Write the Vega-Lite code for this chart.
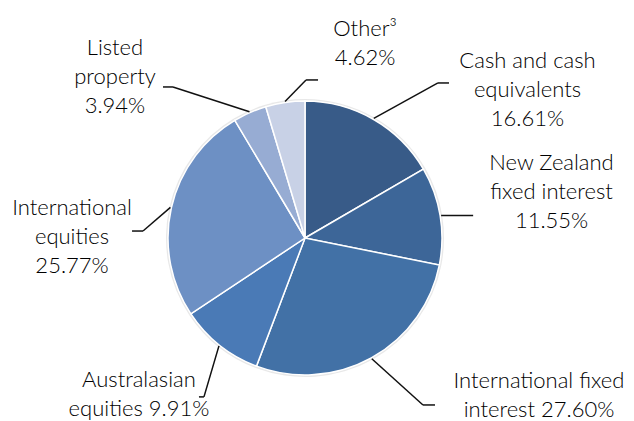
{
  "$schema": "https://vega.github.io/schema/vega-lite/v6.json",
  "width": 634,
  "height": 421,
  "autosize": {"type": "none"},
  "padding": 0,
  "background": "white",
  "config": {
    "view": {"stroke": null},
    "text": {"font": "Lato", "fontSize": 22, "fontWeight": 300, "lineHeight": 29, "fill": "#000000"},
    "rule": {"stroke": "#111111", "strokeWidth": 1.5}
  },
  "data": {
    "values": [
      {"category": "Cash and cash equivalents", "value": 16.61, "label": ["Cash and cash", "equivalents", "16.61%"]},
      {"category": "New Zealand fixed interest", "value": 11.55, "label": ["New Zealand", "fixed interest", "11.55%"]},
      {"category": "International fixed interest", "value": 27.60, "label": ["International fixed", "interest 27.60%"]},
      {"category": "Australasian equities", "value": 9.91, "label": ["Australasian", "equities 9.91%"]},
      {"category": "International equities", "value": 25.77, "label": ["International", "equities", "25.77%"]},
      {"category": "Listed property", "value": 3.94, "label": ["Listed", "property", "3.94%"]},
      {"category": "Other", "value": 4.62, "label": ["Other³", "4.62%"]}
    ]
  },
  "transform": [
    {"window": [{"op": "sum", "field": "value", "as": "v1"}], "frame": [null, 0]},
    {"calculate": "datum.v1 - datum.value", "as": "v0"},
    {"calculate": "PI * (datum.v0 + datum.v1) / 100", "as": "a"},
    {"calculate": "138 * sin(datum.a)", "as": "sx"},
    {"calculate": "138 * cos(datum.a)", "as": "sy"}
  ],
  "layer": [
    {
      "mark": {"type": "arc", "outerRadius": 139, "fill": "#d9d9d9", "opacity": 0.6},
      "encoding": {
        "x": {"datum": 0, "type": "quantitative", "scale": {"domain": [-305, 329], "nice": false, "zero": false}, "axis": null},
        "y": {"datum": 0, "type": "quantitative", "scale": {"domain": [-183, 238], "nice": false, "zero": false}, "axis": null},
        "theta": {"field": "v0", "type": "quantitative", "scale": {"domain": [0, 100]}},
        "theta2": {"field": "v1"}
      }
    },
    {
      "mark": {"type": "arc", "outerRadius": 137, "stroke": "white", "strokeWidth": 1.5},
      "encoding": {
        "x": {"datum": 0, "type": "quantitative", "scale": {"domain": [-305, 329], "nice": false, "zero": false}, "axis": null},
        "y": {"datum": 0, "type": "quantitative", "scale": {"domain": [-183, 238], "nice": false, "zero": false}, "axis": null},
        "theta": {"field": "v0", "type": "quantitative", "scale": {"domain": [0, 100]}},
        "theta2": {"field": "v1"},
        "color": {
          "field": "category",
          "type": "nominal",
          "legend": null,
          "scale": {
            "domain": ["Cash and cash equivalents", "New Zealand fixed interest", "International fixed interest", "Australasian equities", "International equities", "Listed property", "Other"],
            "range": ["#385b88", "#3d6698", "#4271a6", "#4a7ab6", "#6d90c4", "#97acd3", "#c8d1e6"]
          }
        }
      }
    },
    {
      "transform": [
        {"filter": "datum.category === 'Cash and cash equivalents'"},
        {"calculate": "datum.sx + 64.2", "as": "ex"},
        {"calculate": "datum.sy + 35.4", "as": "ey"},
        {"calculate": "datum.ex + 11", "as": "fx"},
        {"calculate": "datum.sx + 153.7", "as": "tx"},
        {"calculate": "datum.sy + 50.4", "as": "ty"}
      ],
      "layer": [
        {"mark": "rule", "encoding": {"x": {"field": "sx", "type": "quantitative", "scale": {"domain": [-305, 329], "nice": false, "zero": false}, "axis": null}, "y": {"field": "sy", "type": "quantitative", "scale": {"domain": [-183, 238], "nice": false, "zero": false}, "axis": null}, "x2": {"field": "ex"}, "y2": {"field": "ey"}}},
        {"mark": "rule", "encoding": {"x": {"field": "ex", "type": "quantitative", "scale": {"domain": [-305, 329], "nice": false, "zero": false}, "axis": null}, "y": {"field": "ey", "type": "quantitative", "scale": {"domain": [-183, 238], "nice": false, "zero": false}, "axis": null}, "x2": {"field": "fx"}, "y2": {"field": "ey"}}},
        {"mark": {"type": "text", "align": "center", "baseline": "alphabetic"}, "encoding": {"x": {"field": "tx", "type": "quantitative", "scale": {"domain": [-305, 329], "nice": false, "zero": false}, "axis": null}, "y": {"field": "ty", "type": "quantitative", "scale": {"domain": [-183, 238], "nice": false, "zero": false}, "axis": null}, "text": {"field": "label", "type": "nominal"}}}
      ]
    },
    {
      "transform": [
        {"filter": "datum.category === 'New Zealand fixed interest'"},
        {"calculate": "datum.sx", "as": "ex"},
        {"calculate": "datum.sy", "as": "ey"},
        {"calculate": "datum.ex + 32", "as": "fx"},
        {"calculate": "datum.sx + 110.4", "as": "tx"},
        {"calculate": "datum.sy + 45.4", "as": "ty"}
      ],
      "layer": [
        {"mark": "rule", "encoding": {"x": {"field": "ex", "type": "quantitative", "scale": {"domain": [-305, 329], "nice": false, "zero": false}, "axis": null}, "y": {"field": "ey", "type": "quantitative", "scale": {"domain": [-183, 238], "nice": false, "zero": false}, "axis": null}, "x2": {"field": "fx"}, "y2": {"field": "ey"}}},
        {"mark": {"type": "text", "align": "center", "baseline": "alphabetic"}, "encoding": {"x": {"field": "tx", "type": "quantitative", "scale": {"domain": [-305, 329], "nice": false, "zero": false}, "axis": null}, "y": {"field": "ty", "type": "quantitative", "scale": {"domain": [-183, 238], "nice": false, "zero": false}, "axis": null}, "text": {"field": "label", "type": "nominal"}}}
      ]
    },
    {
      "transform": [
        {"filter": "datum.category === 'International fixed interest'"},
        {"calculate": "datum.sx + 51.2", "as": "ex"},
        {"calculate": "datum.sy - 46.2", "as": "ey"},
        {"calculate": "datum.ex + 12", "as": "fx"},
        {"calculate": "datum.sx + 167.2", "as": "tx"},
        {"calculate": "datum.sy - 29.2", "as": "ty"}
      ],
      "layer": [
        {"mark": "rule", "encoding": {"x": {"field": "sx", "type": "quantitative", "scale": {"domain": [-305, 329], "nice": false, "zero": false}, "axis": null}, "y": {"field": "sy", "type": "quantitative", "scale": {"domain": [-183, 238], "nice": false, "zero": false}, "axis": null}, "x2": {"field": "ex"}, "y2": {"field": "ey"}}},
        {"mark": "rule", "encoding": {"x": {"field": "ex", "type": "quantitative", "scale": {"domain": [-305, 329], "nice": false, "zero": false}, "axis": null}, "y": {"field": "ey", "type": "quantitative", "scale": {"domain": [-183, 238], "nice": false, "zero": false}, "axis": null}, "x2": {"field": "fx"}, "y2": {"field": "ey"}}},
        {"mark": {"type": "text", "align": "center", "baseline": "alphabetic"}, "encoding": {"x": {"field": "tx", "type": "quantitative", "scale": {"domain": [-305, 329], "nice": false, "zero": false}, "axis": null}, "y": {"field": "ty", "type": "quantitative", "scale": {"domain": [-183, 238], "nice": false, "zero": false}, "axis": null}, "text": {"field": "label", "type": "nominal"}}}
      ]
    },
    {
      "transform": [
        {"filter": "datum.category === 'Australasian equities'"},
        {"calculate": "datum.sx - 15", "as": "ex"},
        {"calculate": "datum.sy - 51", "as": "ey"},
        {"calculate": "datum.ex - 5", "as": "fx"},
        {"calculate": "datum.sx - 80", "as": "tx"},
        {"calculate": "datum.sy - 41.1", "as": "ty"}
      ],
      "layer": [
        {"mark": "rule", "encoding": {"x": {"field": "sx", "type": "quantitative", "scale": {"domain": [-305, 329], "nice": false, "zero": false}, "axis": null}, "y": {"field": "sy", "type": "quantitative", "scale": {"domain": [-183, 238], "nice": false, "zero": false}, "axis": null}, "x2": {"field": "ex"}, "y2": {"field": "ey"}}},
        {"mark": "rule", "encoding": {"x": {"field": "ex", "type": "quantitative", "scale": {"domain": [-305, 329], "nice": false, "zero": false}, "axis": null}, "y": {"field": "ey", "type": "quantitative", "scale": {"domain": [-183, 238], "nice": false, "zero": false}, "axis": null}, "x2": {"field": "fx"}, "y2": {"field": "ey"}}},
        {"mark": {"type": "text", "align": "center", "baseline": "alphabetic"}, "encoding": {"x": {"field": "tx", "type": "quantitative", "scale": {"domain": [-305, 329], "nice": false, "zero": false}, "axis": null}, "y": {"field": "ty", "type": "quantitative", "scale": {"domain": [-183, 238], "nice": false, "zero": false}, "axis": null}, "text": {"field": "label", "type": "nominal"}}}
      ]
    },
    {
      "transform": [
        {"filter": "datum.category === 'International equities'"},
        {"calculate": "datum.sx - 27.4", "as": "ex"},
        {"calculate": "datum.sy - 23.6", "as": "ey"},
        {"calculate": "datum.ex - 11", "as": "fx"},
        {"calculate": "datum.sx - 98.4", "as": "tx"},
        {"calculate": "datum.sy - 7.6", "as": "ty"}
      ],
      "layer": [
        {"mark": "rule", "encoding": {"x": {"field": "sx", "type": "quantitative", "scale": {"domain": [-305, 329], "nice": false, "zero": false}, "axis": null}, "y": {"field": "sy", "type": "quantitative", "scale": {"domain": [-183, 238], "nice": false, "zero": false}, "axis": null}, "x2": {"field": "ex"}, "y2": {"field": "ey"}}},
        {"mark": "rule", "encoding": {"x": {"field": "ex", "type": "quantitative", "scale": {"domain": [-305, 329], "nice": false, "zero": false}, "axis": null}, "y": {"field": "ey", "type": "quantitative", "scale": {"domain": [-183, 238], "nice": false, "zero": false}, "axis": null}, "x2": {"field": "fx"}, "y2": {"field": "ey"}}},
        {"mark": {"type": "text", "align": "center", "baseline": "alphabetic"}, "encoding": {"x": {"field": "tx", "type": "quantitative", "scale": {"domain": [-305, 329], "nice": false, "zero": false}, "axis": null}, "y": {"field": "ty", "type": "quantitative", "scale": {"domain": [-183, 238], "nice": false, "zero": false}, "axis": null}, "text": {"field": "label", "type": "nominal"}}}
      ]
    },
    {
      "transform": [
        {"filter": "datum.category === 'Listed property'"},
        {"calculate": "datum.sx - 76.5", "as": "ex"},
        {"calculate": "datum.sy + 24.7", "as": "ey"},
        {"calculate": "datum.ex - 10", "as": "fx"},
        {"calculate": "datum.sx - 134.5", "as": "tx"},
        {"calculate": "datum.sy + 56.7", "as": "ty"}
      ],
      "layer": [
        {"mark": "rule", "encoding": {"x": {"field": "sx", "type": "quantitative", "scale": {"domain": [-305, 329], "nice": false, "zero": false}, "axis": null}, "y": {"field": "sy", "type": "quantitative", "scale": {"domain": [-183, 238], "nice": false, "zero": false}, "axis": null}, "x2": {"field": "ex"}, "y2": {"field": "ey"}}},
        {"mark": "rule", "encoding": {"x": {"field": "ex", "type": "quantitative", "scale": {"domain": [-305, 329], "nice": false, "zero": false}, "axis": null}, "y": {"field": "ey", "type": "quantitative", "scale": {"domain": [-183, 238], "nice": false, "zero": false}, "axis": null}, "x2": {"field": "fx"}, "y2": {"field": "ey"}}},
        {"mark": {"type": "text", "align": "center", "baseline": "alphabetic"}, "encoding": {"x": {"field": "tx", "type": "quantitative", "scale": {"domain": [-305, 329], "nice": false, "zero": false}, "axis": null}, "y": {"field": "ty", "type": "quantitative", "scale": {"domain": [-183, 238], "nice": false, "zero": false}, "axis": null}, "text": {"field": "label", "type": "nominal"}}}
      ]
    },
    {
      "transform": [
        {"filter": "datum.category === 'Other'"},
        {"calculate": "datum.sx + 21", "as": "ex"},
        {"calculate": "datum.sy + 21.5", "as": "ey"},
        {"calculate": "datum.ex + 12", "as": "fx"},
        {"calculate": "datum.sx + 80", "as": "tx"},
        {"calculate": "datum.sy + 65.5", "as": "ty"}
      ],
      "layer": [
        {"mark": "rule", "encoding": {"x": {"field": "sx", "type": "quantitative", "scale": {"domain": [-305, 329], "nice": false, "zero": false}, "axis": null}, "y": {"field": "sy", "type": "quantitative", "scale": {"domain": [-183, 238], "nice": false, "zero": false}, "axis": null}, "x2": {"field": "ex"}, "y2": {"field": "ey"}}},
        {"mark": "rule", "encoding": {"x": {"field": "ex", "type": "quantitative", "scale": {"domain": [-305, 329], "nice": false, "zero": false}, "axis": null}, "y": {"field": "ey", "type": "quantitative", "scale": {"domain": [-183, 238], "nice": false, "zero": false}, "axis": null}, "x2": {"field": "fx"}, "y2": {"field": "ey"}}},
        {"mark": {"type": "text", "align": "center", "baseline": "alphabetic"}, "encoding": {"x": {"field": "tx", "type": "quantitative", "scale": {"domain": [-305, 329], "nice": false, "zero": false}, "axis": null}, "y": {"field": "ty", "type": "quantitative", "scale": {"domain": [-183, 238], "nice": false, "zero": false}, "axis": null}, "text": {"field": "label", "type": "nominal"}}}
      ]
    }
  ]
}
